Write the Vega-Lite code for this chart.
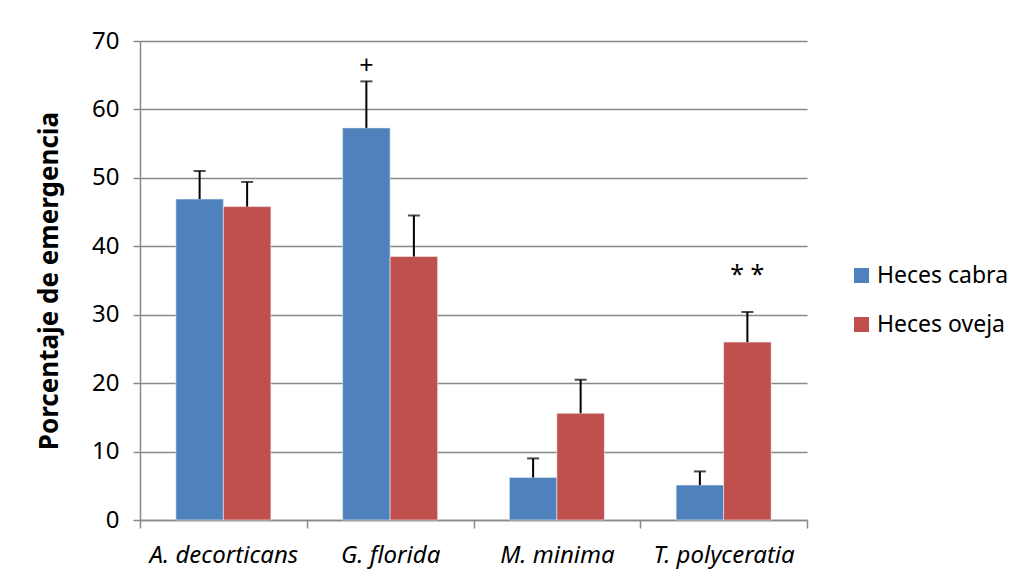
{
  "$schema": "https://vega.github.io/schema/vega-lite/v6.json",
  "autosize": {"type": "none"},
  "width": 667,
  "height": 479,
  "padding": {"left": 140, "top": 41, "right": 207, "bottom": 58},
  "background": "white",
  "config": {
    "font": "Noto Sans",
    "view": {"stroke": null},
    "axis": {"labelFont": "Noto Sans", "titleFont": "Noto Sans", "labelColor": "black", "titleColor": "black"}
  },
  "data": {
    "values": [
      {"especie": "A. decorticans", "serie": "Heces cabra", "valor": 46.9, "error": 51.0, "signo": ""},
      {"especie": "A. decorticans", "serie": "Heces oveja", "valor": 45.8, "error": 49.4, "signo": ""},
      {"especie": "G. florida", "serie": "Heces cabra", "valor": 57.3, "error": 64.1, "signo": "+"},
      {"especie": "G. florida", "serie": "Heces oveja", "valor": 38.5, "error": 44.5, "signo": ""},
      {"especie": "M. minima", "serie": "Heces cabra", "valor": 6.2, "error": 9.0, "signo": ""},
      {"especie": "M. minima", "serie": "Heces oveja", "valor": 15.6, "error": 20.5, "signo": ""},
      {"especie": "T. polyceratia", "serie": "Heces cabra", "valor": 5.1, "error": 7.1, "signo": ""},
      {"especie": "T. polyceratia", "serie": "Heces oveja", "valor": 26.0, "error": 30.4, "signo": "* *"},
      {"especie": "G. florida", "serie": "Heces cabra", "valor": 66.3, "error": 66.3, "signo": "+", "tipo": "nota"},
      {"especie": "T. polyceratia", "serie": "Heces oveja", "valor": 35.8, "error": 35.8, "signo": "* *", "tipo": "nota"}
    ]
  },
  "encoding": {
    "x": {
      "field": "especie", "type": "nominal", "sort": null,
      "scale": {"paddingInner": 0, "paddingOuter": 0},
      "axis": {
        "title": null, "labelAngle": 0, "labelFontSize": 24, "labelFontStyle": "italic",
        "tickBand": "extent", "tickSize": 8, "tickColor": "#898989", "tickWidth": 1.5,
        "domainColor": "#898989", "domainWidth": 1.5, "labelPadding": 15
      }
    },
    "xOffset": {"field": "serie", "type": "nominal", "scale": {"paddingInner": 0, "paddingOuter": 0.755}}
  },
  "layer": [
    {
      "transform": [{"filter": "datum.tipo != 'nota'"}],
      "mark": {"type": "bar", "stroke": "#e8eef6", "strokeWidth": 0.6},
      "encoding": {
        "y": {
          "field": "valor", "type": "quantitative",
          "scale": {"domain": [0, 70], "nice": false},
          "axis": {
            "title": "Porcentaje de emergencia", "titleFontSize": 26, "titleFontWeight": "bold",
            "titleX": -83, "titleY": 239.5, "titleAngle": -90, "titleAlign": "center", "titleBaseline": "alphabetic",
            "values": [0, 10, 20, 30, 40, 50, 60, 70], "labelFontSize": 24, "labelPadding": 14,
            "tickSize": 7, "tickColor": "#898989", "tickWidth": 1.5,
            "grid": true, "gridColor": "#898989", "gridWidth": 1.5,
            "domainColor": "#898989", "domainWidth": 1.5
          }
        },
        "color": {
          "field": "serie", "type": "nominal",
          "scale": {"domain": ["Heces cabra", "Heces oveja"], "range": ["#4F81BD", "#C0504D"]},
          "legend": {
            "title": null, "orient": "none", "legendX": 710, "legendY": 223,
            "symbolType": "square", "symbolSize": 225, "symbolStrokeWidth": 0,
            "labelFontSize": 23, "labelColor": "black", "rowPadding": 25, "labelOffset": 4, "padding": 0
          }
        }
      }
    },
    {
      "transform": [{"filter": "datum.tipo != 'nota'"}],
      "mark": {"type": "rule", "color": "black", "strokeWidth": 2},
      "encoding": {
        "y": {"field": "valor", "type": "quantitative"},
        "y2": {"field": "error"}
      }
    },
    {
      "transform": [{"filter": "datum.tipo != 'nota'"}],
      "mark": {"type": "tick", "color": "black", "orient": "horizontal", "size": 12, "thickness": 2},
      "encoding": {
        "y": {"field": "error", "type": "quantitative"}
      }
    },
    {
      "transform": [{"filter": "datum.tipo == 'nota'"}],
      "mark": {"type": "text", "fontSize": 25, "color": "black", "baseline": "middle", "font": "Noto Sans"},
      "encoding": {
        "y": {"field": "valor", "type": "quantitative"},
        "text": {"field": "signo"}
      }
    }
  ]
}
